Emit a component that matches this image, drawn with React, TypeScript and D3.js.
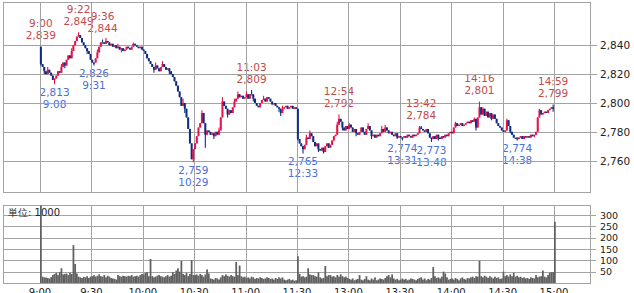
import React from 'react';
import * as d3 from 'd3';

// ---- data (1-minute bars, 9:00-11:29 = 0..149, 12:30-14:59 = 150..299) ----
const firstOpen = 2839;
const closes: number[] = [
  2827, 2825, 2822, 2820, 2823, 2821, 2819, 2816, 2817, 2819,
  2822, 2821, 2825, 2828, 2826, 2830, 2833, 2831, 2836, 2840,
  2843, 2846, 2847, 2845, 2842, 2840, 2838, 2836, 2834, 2830,
  2828, 2828, 2831, 2835, 2839, 2842, 2842, 2841, 2843, 2842,
  2840, 2841, 2839, 2840, 2838, 2839, 2837, 2838, 2836, 2837,
  2839, 2838, 2837, 2839, 2841, 2840, 2839, 2838, 2839, 2837,
  2836, 2834, 2831, 2829, 2827, 2825, 2823, 2826, 2824, 2822,
  2825, 2827, 2825, 2823, 2824, 2822, 2820, 2818, 2815, 2812,
  2808, 2804, 2798, 2800, 2796, 2790, 2782, 2772, 2761, 2768,
  2772, 2777, 2783, 2786, 2793, 2786, 2778, 2781, 2780, 2778,
  2779, 2777, 2780, 2778, 2781, 2790, 2801, 2798, 2796, 2792,
  2795, 2793, 2797, 2801, 2803, 2806, 2804, 2805, 2803, 2804,
  2806, 2803, 2806, 2806, 2803, 2800, 2798, 2797, 2800, 2802,
  2803, 2801, 2804, 2803, 2801, 2799, 2800, 2798, 2797, 2796,
  2793, 2796, 2797, 2798, 2796, 2797, 2798, 2796, 2797, 2796,
  2775, 2772, 2770, 2768, 2771, 2776, 2775, 2779, 2777, 2773,
  2770, 2772, 2768, 2767, 2769, 2766, 2770, 2772, 2769, 2771,
  2774, 2777, 2778, 2785, 2789, 2787, 2783, 2781, 2784, 2782,
  2785, 2783, 2780, 2782, 2779, 2778, 2780, 2783, 2780, 2778,
  2782, 2784, 2781, 2777, 2778, 2776, 2778, 2777, 2779, 2782,
  2780, 2783, 2781, 2779, 2780, 2778, 2777, 2779, 2776, 2777,
  2776, 2776, 2777, 2776, 2778, 2777, 2776, 2778, 2777, 2778,
  2779, 2783, 2782, 2781, 2780, 2782, 2779, 2776, 2775, 2777,
  2775, 2778, 2776, 2775, 2777, 2776, 2778, 2777, 2779, 2780,
  2779, 2783, 2786, 2784, 2785, 2786, 2784, 2785, 2786, 2787,
  2786, 2788, 2787, 2789, 2783, 2790, 2797, 2792, 2796, 2791,
  2794, 2790, 2793, 2789, 2792, 2789, 2786, 2784, 2783, 2781,
  2780, 2781, 2788, 2784, 2780, 2778, 2776, 2776, 2775, 2776,
  2777, 2775, 2777, 2776, 2777, 2776, 2778, 2777, 2778, 2780,
  2790, 2795, 2792, 2793, 2794, 2793, 2795, 2796, 2797, 2796,
];
// extra wick extremes: [minute, price]
const wickHighs: [number, number][] = [
  [0, 2839], [4, 2825], [12, 2827], [18, 2838], [22, 2849], [24, 2845], [33, 2837],
  [36, 2844], [38, 2845], [45, 2841], [54, 2842], [67, 2828], [71, 2829], [83, 2803],
  [94, 2795], [104, 2783], [106, 2804], [113, 2803], [115, 2808], [120, 2808],
  [123, 2809], [130, 2805], [141, 2798], [155, 2778], [157, 2781], [173, 2787],
  [174, 2792], [180, 2786], [191, 2786], [199, 2784], [201, 2785], [221, 2784],
  [222, 2784], [242, 2787], [253, 2790], [256, 2801], [258, 2797], [272, 2789],
  [291, 2796], [299, 2799],
];
const wickLows: [number, number][] = [
  [0, 2826], [2, 2820], [8, 2813], [14, 2824], [27, 2834], [31, 2826], [47, 2835],
  [66, 2821], [75, 2820], [84, 2793], [89, 2759], [96, 2769], [101, 2775],
  [109, 2790], [124, 2801], [139, 2794], [140, 2791], [150, 2774], [153, 2765],
  [162, 2766], [165, 2765], [176, 2781], [184, 2777], [193, 2775], [208, 2775],
  [211, 2774], [228, 2773], [232, 2774], [254, 2781], [263, 2788], [274, 2779],
  [278, 2774], [288, 2776], [299, 2794],
];
// volume (unit 1000), minutes 0..300 (300 = 15:00 close)
const volumes: number[] = [
  345, 28, 25, 24, 22, 20, 26, 35, 40, 45,
  35, 48, 65, 38, 40, 42, 35, 45, 40, 167,
  84, 42, 28, 25, 22, 27, 25, 30, 22, 28,
  30, 35, 28, 32, 38, 30, 28, 35, 25, 32,
  28, 22, 20, 18, 15, 35, 30, 28, 32, 30,
  28, 32, 30, 35, 28, 30, 32, 28, 35, 40,
  38, 45, 48, 30, 106, 30, 25, 28, 32, 35,
  30, 28, 25, 30, 35, 28, 32, 48, 40, 55,
  65, 50, 98, 40, 35, 45, 30, 40, 101, 35,
  35, 38, 32, 40, 35, 28, 38, 60, 42, 20,
  18, 15, 22, 20, 15, 25, 35, 30, 38, 32,
  28, 35, 30, 28, 93, 35, 77, 30, 25, 28,
  22, 25, 20, 28, 25, 18, 22, 20, 25, 22,
  18, 20, 25, 22, 18, 20, 15, 22, 18, 25,
  20, 25, 15, 12, 15, 18, 12, 15, 10, 12,
  118, 40, 28, 30, 25, 28, 65, 38, 35, 35,
  30, 28, 47, 25, 20, 22, 75, 30, 35, 35,
  28, 30, 25, 35, 28, 38, 30, 25, 28, 22,
  18, 15, 20, 12, 15, 18, 35, 15, 12, 18,
  30, 15, 12, 20, 15, 25, 12, 15, 20, 18,
  15, 22, 30, 35, 25, 38, 20, 15, 18, 12,
  15, 20, 15, 18, 12, 15, 20, 18, 15, 12,
  18, 22, 25, 15, 20, 12, 18, 15, 22, 70,
  30, 22, 25, 20, 28, 50, 42, 25, 15, 18,
  20, 15, 22, 18, 12, 20, 25, 18, 15, 22,
  20, 25, 28, 22, 30, 28, 98, 30, 25, 32,
  28, 22, 30, 25, 20, 28, 22, 25, 18, 20,
  50, 30, 35, 28, 38, 30, 45, 28, 32, 25,
  28, 22, 25, 20, 22, 18, 25, 22, 20, 35,
  25, 28, 30, 55, 28, 25, 35, 45, 48, 48,
  270,
];
// annotations: [minute, time label, price]
const highMarks: [number, string, number][] = [
  [0, '9:00', 2839], [22, '9:22', 2849], [36, '9:36', 2844], [123, '11:03', 2809],
  [174, '12:54', 2792], [222, '13:42', 2784], [256, '14:16', 2801], [299, '14:59', 2799],
];
const lowMarks: [number, string, number][] = [
  [8, '9:08', 2813], [31, '9:31', 2826], [89, '10:29', 2759], [153, '12:33', 2765],
  [211, '13:31', 2774], [228, '13:48', 2773], [278, '14:38', 2774],
];
const timeTicks = ['9:00', '9:30', '10:00', '10:30', '11:00', '11:30', '13:00', '13:30', '14:00', '14:30', '15:00'];
const priceTicks = [2760, 2780, 2800, 2820, 2840];
const volumeTicks = [50, 100, 150, 200, 250, 300];
const unitLabel = '単位: 1000';

const UP = '#e5124b';
const DOWN = '#0f2d80';
const GRID = '#a3a3a3';
const HI_TXT = '#c24a4a';
const LO_TXT = '#4a6fd6';
const FONT = 'DejaVu Sans, sans-serif';

export default function App() {
  const W = 634, H = 293;
  const left = 3.5, right = 590.5;
  const pTop = 2.5, pBot = 192.5;
  const vTop = 205.5, vBot = 283.5;

  const x = d3.scaleLinear().domain([0, 300]).range([40, 554]);
  const y = d3.scaleLinear().domain([2738.3, 2870]).range([192, 2]);
  const yv = d3.scaleLinear().domain([0, 300]).range([283, 215]);
  const fmt = d3.format(',');

  const hiMap = new Map(wickHighs);
  const loMap = new Map(wickLows);
  const candles = closes.map((c, i) => {
    const o = i === 0 ? firstOpen : closes[i - 1];
    const h = Math.max(o, c, hiMap.get(i) ?? -Infinity);
    const l = Math.min(o, c, loMap.get(i) ?? Infinity);
    return { i, o, c, h, l };
  });

  return (
    <svg width={W} height={H} style={{ position: 'absolute', left: 0, top: 0, background: '#fff' }} fontFamily={FONT}>
      <rect x={0} y={0} width={W} height={H} fill="#fff" />
      {/* annotations (under grid) */}
      {highMarks.map(([m, t, p]) => {
        const cx = x(m + 0.5);
        const by = y(p) - 7.5;
        return (
          <g key={'h' + m} fill={HI_TXT} fontSize={10.5} textAnchor="middle">
            <text x={cx} y={Math.max(by - 12, 10)}>{t}</text>
            <text x={cx} y={by}>{fmt(p)}</text>
          </g>
        );
      })}
      {lowMarks.map(([m, t, p]) => {
        const cx = x(m + 0.5);
        const by = y(p) + 12;
        return (
          <g key={'l' + m} fill={LO_TXT} fontSize={10.5} textAnchor="middle">
            <text x={cx} y={by}>{fmt(p)}</text>
            <text x={cx} y={by + 12}>{t}</text>
          </g>
        );
      })}
      {/* grids */}
      <g stroke={GRID} strokeWidth={1} shapeRendering="crispEdges" fill="none">
        <rect x={left} y={pTop} width={right - left} height={pBot - pTop} />
        {timeTicks.map((t, i) => (
          <line key={'pv' + t} x1={Math.round(x(i * 30)) + 0.5} x2={Math.round(x(i * 30)) + 0.5} y1={pTop} y2={pBot} />
        ))}
        {priceTicks.map((p) => (
          <line key={'ph' + p} x1={left} x2={597} y1={Math.round(y(p)) + 0.5} y2={Math.round(y(p)) + 0.5} />
        ))}
        <rect x={left} y={vTop} width={right - left} height={vBot - vTop} />
        {timeTicks.map((t, i) => (
          <line key={'vv' + t} x1={Math.round(x(i * 30)) + 0.5} x2={Math.round(x(i * 30)) + 0.5} y1={vTop} y2={vBot} />
        ))}
        {volumeTicks.map((v) => (
          <line key={'vh' + v} x1={left} x2={596} y1={Math.round(yv(v)) + 0.5} y2={Math.round(yv(v)) + 0.5} />
        ))}
      </g>
      {/* candles */}
      <g>
        {candles.map((d) => {
          const cx = x(d.i + 0.5);
          const col = d.c > d.o ? UP : DOWN;
          const top = y(Math.max(d.o, d.c));
          const bh = Math.max(1.2, y(Math.min(d.o, d.c)) - top);
          return (
            <g key={d.i}>
              <line x1={cx} x2={cx} y1={y(d.h)} y2={y(d.l)} stroke={col} strokeWidth={1.1} />
              <rect x={cx - 1} y={top} width={2} height={bh} fill={col} />
            </g>
          );
        })}
      </g>
      {/* volume bars */}
      <g fill="#606060">
        {volumes.map((v, i) => {
          const top = Math.max(vTop, yv(v));
          return <rect key={i} x={x(i)} y={top} width={x(i + 1) - x(i) + 0.05} height={283 - top} />;
        })}
      </g>
      <text x={8} y={216} fontSize={10} fill="#222">{unitLabel}</text>
      {/* right axes */}
      <g fontSize={10.5} fill="#222">
        {priceTicks.map((p) => (
          <text key={'pt' + p} x={600} y={y(p) + 4}>{fmt(p)}</text>
        ))}
      </g>
      <g fontSize={9.5} fill="#222">
        {volumeTicks.map((v) => (
          <text key={'vt' + v} x={600} y={yv(v) + 3.5}>{v}</text>
        ))}
      </g>
      <g fontSize={10} fill="#222" textAnchor="middle">
        {timeTicks.map((t, i) => (
          <text key={'xt' + t} x={x(i * 30)} y={296}>{t}</text>
        ))}
      </g>
    </svg>
  );
}
